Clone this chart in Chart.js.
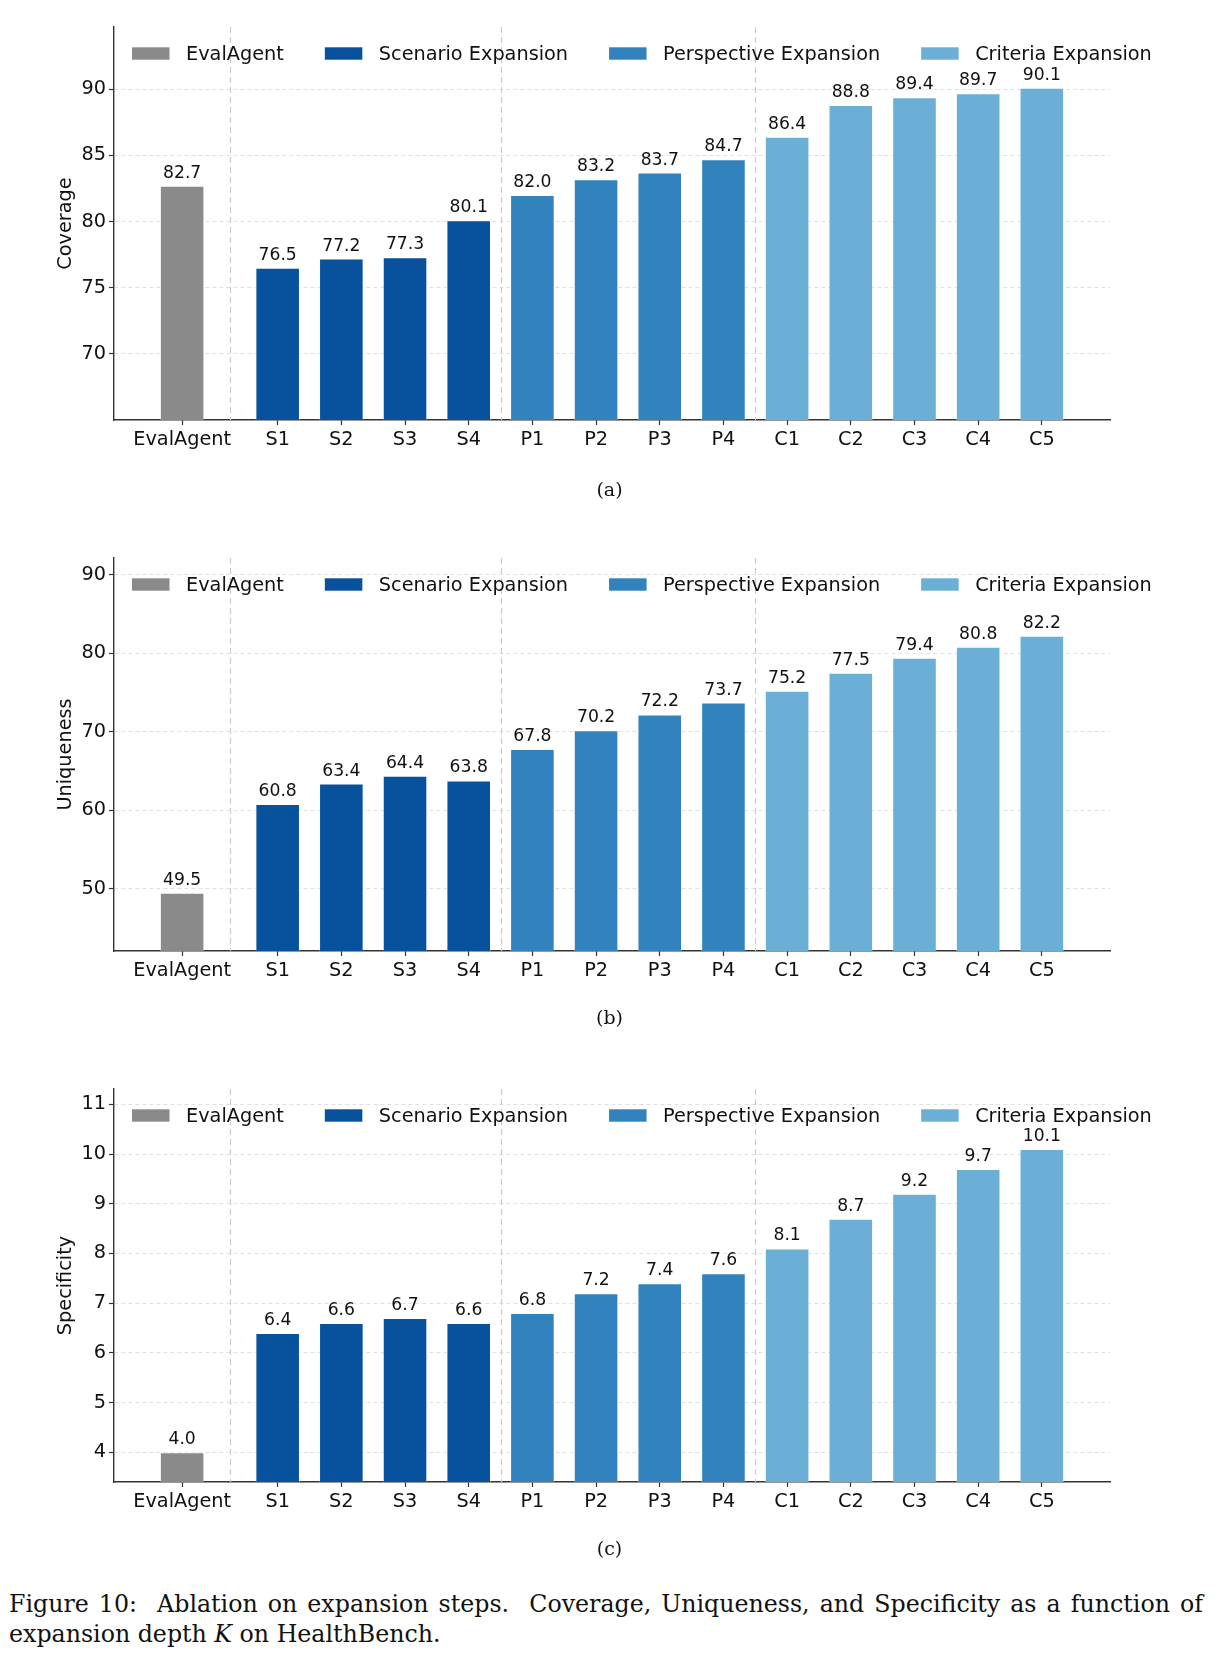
<!DOCTYPE html>
<html>
<head>
<meta charset="utf-8">
<script src="https://cdn.jsdelivr.net/npm/chart.js@4.4.0/dist/chart.umd.min.js"></script>
<style>
  body { margin: 0; background: #fff; }
  #page { position: relative; width: 1219px; height: 1666px; overflow: hidden; }
  canvas { position: absolute; left: 0; }
  .sub { position: absolute; left: 0; width: 1219px; text-align: center; font-family: "DejaVu Serif"; font-size: 19px; line-height: 24px; color: #111; }
  .cap { position: absolute; left: 9px; width: 1194px; font-family: "DejaVu Serif"; font-size: 23.7px; line-height: 30px; color: #111; }
  .cap .l1 { text-align: justify; text-align-last: justify; white-space: nowrap; }
</style>
</head>
<body>
<div id="page">
  <canvas id="chartA" width="1219" height="480" style="top:0px"></canvas>
  <div class="sub" style="top:477px">(a)</div>
  <canvas id="chartB" width="1219" height="480" style="top:531px"></canvas>
  <div class="sub" style="top:1005px">(b)</div>
  <canvas id="chartC" width="1219" height="480" style="top:1062px"></canvas>
  <div class="sub" style="top:1536px">(c)</div>
  <div class="cap" style="top:1589px">
    <div class="l1" id="capLine1">Figure 10:&nbsp; Ablation on expansion steps.&nbsp; Coverage, Uniqueness, and Specificity as a function of</div>
    <div>expansion depth <i>K</i> on HealthBench.</div>
  </div>
</div>
<script>
// categories and groups
const xLabels = ["EvalAgent", "S1", "S2", "S3", "S4", "P1", "P2", "P3", "P4", "C1", "C2", "C3", "C4", "C5"];
const groupNames = ["EvalAgent", "Scenario Expansion", "Perspective Expansion", "Criteria Expansion"];
const groupSizes = [1, 4, 4, 5];
const groupColors = ["#8a8a8a", "#08519c", "#3182bd", "#6baed6"];

// values
const coverage = [82.7, 76.5, 77.2, 77.3, 80.1, 82.0, 83.2, 83.7, 84.7, 86.4, 88.8, 89.4, 89.7, 90.1];
const uniqueness = [49.5, 60.8, 63.4, 64.4, 63.8, 67.8, 70.2, 72.2, 73.7, 75.2, 77.5, 79.4, 80.8, 82.2];
const specificity = [4.0, 6.4, 6.6, 6.7, 6.6, 6.8, 7.2, 7.4, 7.6, 8.1, 8.7, 9.2, 9.7, 10.1];

// y tick labels
const coverageTicks = [70, 75, 80, 85, 90];
const uniquenessTicks = [50, 60, 70, 80, 90];
const specificityTicks = [4, 5, 6, 7, 8, 9, 10, 11];

// EvalAgent sits a bit apart from the expansion steps
const xPos = xLabels.map((_, i) => (i === 0 ? 0 : i + 0.5));

const textColor = "#111";
const axisColor = "#333";
const sansFont = "DejaVu Sans";

function buildDatasets(values) {
  const sets = [];
  let start = 0;
  groupSizes.forEach((n, g) => {
    const pts = [];
    for (let i = start; i < start + n; i++) {
      pts.push({ x: xPos[i], y: values[i] });
    }
    sets.push({
      label: groupNames[g],
      data: pts,
      backgroundColor: groupColors[g],
      borderColor: "rgba(255,255,255,0.35)",
      borderWidth: 1,
      grouped: false,
      categoryPercentage: 1,
      barPercentage: 0.7,
    });
    start += n;
  });
  return sets;
}

const separatorPlugin = {
  id: "separators",
  beforeDatasetsDraw(chart) {
    const { ctx, chartArea } = chart;
    const xs = chart.scales.x;
    let idx = 0;
    ctx.save();
    ctx.strokeStyle = "#cccccc";
    ctx.lineWidth = 1.2;
    ctx.setLineDash([6, 4]);
    for (let g = 0; g < groupSizes.length - 1; g++) {
      idx += groupSizes[g];
      const mid = (xPos[idx - 1] + xPos[idx]) / 2;
      const px = Math.round(xs.getPixelForValue(mid)) + 0.5;
      ctx.beginPath();
      ctx.moveTo(px, chartArea.top);
      ctx.lineTo(px, chartArea.bottom);
      ctx.stroke();
    }
    ctx.restore();
  },
};

const valueLabelPlugin = {
  id: "valueLabels",
  afterDatasetsDraw(chart) {
    const ctx = chart.ctx;
    ctx.save();
    ctx.font = "17.2px '" + sansFont + "'";
    ctx.fillStyle = textColor;
    ctx.textAlign = "center";
    ctx.textBaseline = "alphabetic";
    chart.data.datasets.forEach((ds, di) => {
      const meta = chart.getDatasetMeta(di);
      meta.data.forEach((bar, i) => {
        ctx.fillText(ds.data[i].y.toFixed(1), bar.x, bar.y - 8);
      });
    });
    ctx.restore();
  },
};

const legendPlugin = {
  id: "insideLegend",
  afterDraw(chart) {
    const { ctx, chartArea } = chart;
    const cy = chartArea.top + 26.5;
    let x = chartArea.left + 18;
    ctx.save();
    ctx.font = "19.3px '" + sansFont + "'";
    ctx.textAlign = "left";
    ctx.textBaseline = "middle";
    chart.data.datasets.forEach((ds) => {
      ctx.fillStyle = ds.backgroundColor;
      ctx.fillRect(x, cy - 6.2, 37.5, 12.4);
      ctx.fillStyle = textColor;
      ctx.fillText(ds.label, x + 54, cy + 1);
      x += 54 + ctx.measureText(ds.label).width + 41;
    });
    ctx.restore();
  },
};

function makeChart(id, values, yTicks, title, yMin, yMax) {
  const ctx = document.getElementById(id).getContext("2d");
  return new Chart(ctx, {
    type: "bar",
    data: { datasets: buildDatasets(values) },
    options: {
      responsive: false,
      animation: false,
      layout: { padding: { left: 0, right: 109, top: 27, bottom: 0 } },
      plugins: {
        legend: { display: false },
        tooltip: { enabled: false },
      },
      scales: {
        x: {
          type: "linear",
          offset: false,
          min: -1.07,
          max: 14.57,
          afterBuildTicks: (s) => {
            s.ticks = xPos.map((v) => ({ value: v }));
          },
          afterFit: (s) => {
            s.height = 60;
          },
          ticks: {
            autoSkip: false,
            maxRotation: 0,
            padding: 3,
            color: textColor,
            font: { family: sansFont, size: 19.3 },
            callback: (v, i) => xLabels[i],
          },
          grid: {
            drawOnChartArea: false,
            offset: false,
            tickLength: 5,
            tickColor: axisColor,
            tickWidth: 1.2,
          },
          border: { color: axisColor, width: 1.4 },
        },
        y: {
          min: yMin,
          max: yMax,
          afterBuildTicks: (s) => {
            s.ticks = yTicks.map((v) => ({ value: v }));
          },
          afterFit: (s) => {
            s.width = 114;
          },
          ticks: {
            padding: 3,
            color: textColor,
            font: { family: sansFont, size: 19.3 },
            callback: (v) => String(v),
          },
          grid: {
            color: "#e0e0e0",
            lineWidth: 1,
            tickLength: 5,
            tickColor: axisColor,
            tickWidth: 1.2,
          },
          border: { color: axisColor, width: 1.4, dash: [4, 3] },
          title: {
            display: true,
            text: title,
            color: textColor,
            font: { family: sansFont, size: 19.3 },
            padding: { top: 54, bottom: 0 },
          },
        },
      },
    },
    plugins: [separatorPlugin, valueLabelPlugin, legendPlugin],
  });
}

makeChart("chartA", coverage, coverageTicks, "Coverage", 65, 94.7);
makeChart("chartB", uniqueness, uniquenessTicks, "Uniqueness", 42.1, 92.1);
makeChart("chartC", specificity, specificityTicks, "Specificity", 3.4, 11.31);

// squeeze the first caption line if it is wider than the text block
const line1 = document.getElementById("capLine1");
const probe = document.createElement("span");
probe.style.whiteSpace = "nowrap";
probe.innerHTML = line1.innerHTML;
line1.innerHTML = "";
line1.appendChild(probe);
const natural = probe.getBoundingClientRect().width;
const avail = line1.clientWidth;
line1.innerHTML = probe.innerHTML;
if (natural > avail) {
  line1.style.letterSpacing = ((avail - natural) / line1.textContent.length - 0.05) + "px";
}
</script>
</body>
</html>
